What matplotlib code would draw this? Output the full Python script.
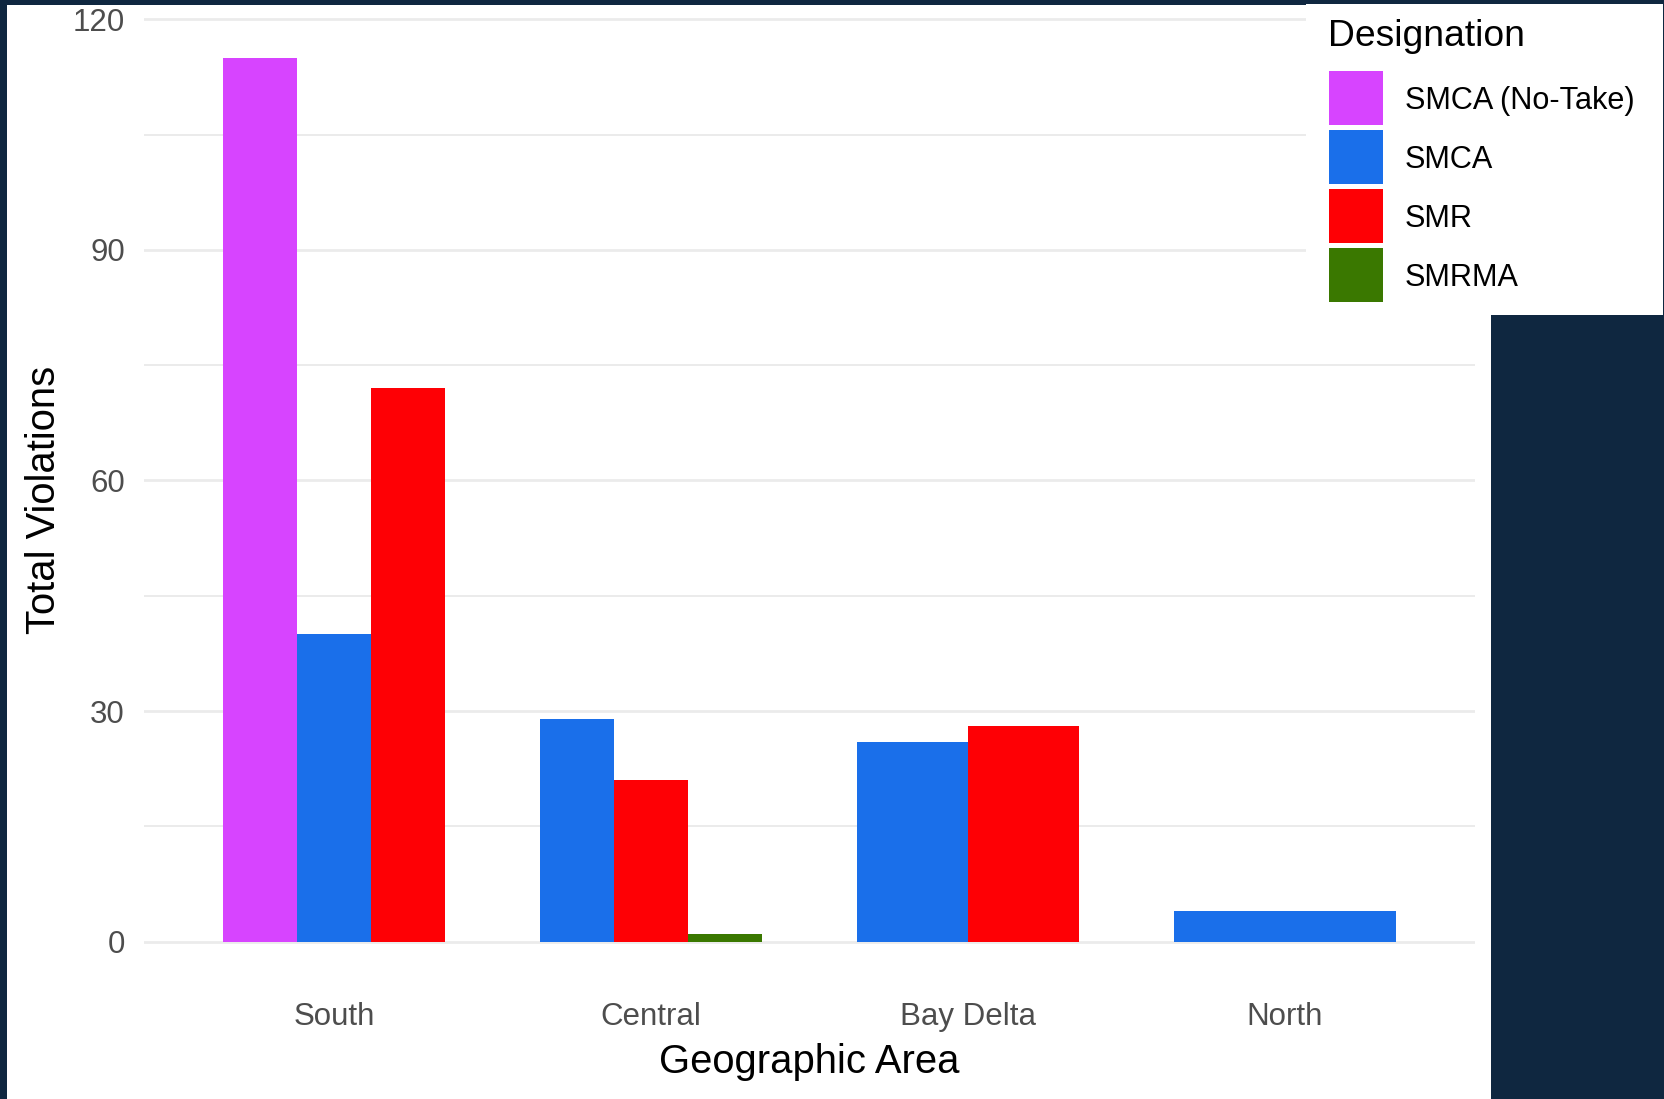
import matplotlib
matplotlib.use("Agg")
import matplotlib.pyplot as plt
from matplotlib.patches import Rectangle, Patch
from matplotlib.legend_handler import HandlerPatch

plt.rcParams['font.family'] = ['Liberation Sans', 'DejaVu Sans']

# ---- data ----
regions = ["South", "Central", "Bay Delta", "North"]
designations = ["SMCA (No-Take)", "SMCA", "SMR", "SMRMA"]
no_take = [115, None, None, None]
smca = [40, 29, 26, 4]
smr = [72, 21, 28, None]
smrma = [None, 1, None, None]
series = [no_take, smca, smr, smrma]
colors = ["#D744FF", "#1A6FEA", "#FE0005", "#3A7800"]
yticks = [0, 30, 60, 90, 120]

W, H = 1665, 1099
DARK = "#0F2740"
fig = plt.figure(figsize=(W / 100, H / 100), dpi=100, facecolor=DARK)

# white panels
fig.patches.append(Rectangle((7 / W, 0), (1491 - 7) / W, (H - 5) / H,
                             transform=fig.transFigure, facecolor="white",
                             edgecolor="none", zorder=-1))
fig.patches.append(Rectangle((1306 / W, 1 - 315 / H), (1663 - 1306) / W, (315 - 4) / H,
                             transform=fig.transFigure, facecolor="white",
                             edgecolor="none", zorder=1))

ax_left, ax_right = 144 / W, 1475 / W
ax_top, ax_bot = 1 - 13.5 / H, 1 - 985.9 / H
ax = fig.add_axes([ax_left, ax_bot, ax_right - ax_left, ax_top - ax_bot])
ax.set_facecolor("none")
ax.set_zorder(0)

# dodged bars (ggplot-like: group width 0.7 split among present bars)
group_w = 0.7
for gi, reg in enumerate(regions):
    present = [si for si, s in enumerate(series) if s[gi] is not None]
    n = len(present)
    w = group_w / n
    for k, si in enumerate(present):
        x = gi - group_w / 2 + k * w + w / 2
        ax.bar(x, series[si][gi], width=w, color=colors[si], linewidth=0, zorder=2)

ax.set_xlim(-0.6, len(regions) - 1 + 0.6)
ax.set_ylim(-5.75, 120.75)

ax.set_xticks(range(len(regions)))
ax.set_xticklabels(regions)
ax.set_yticks(yticks)
ax.set_yticks([15, 45, 75, 105], minor=True)
ax.tick_params(axis="both", which="both", length=0, labelsize=22.5,
               labelcolor="#4D4D4D")
ax.tick_params(axis="y", pad=13.7)
ax.tick_params(axis="x", pad=11.8)

ax.grid(axis="y", which="major", color="#EBEBEB", linewidth=2.0, zorder=0)
ax.grid(axis="y", which="minor", color="#EBEBEB", linewidth=1.4, zorder=0)
ax.grid(axis="x", visible=False)
ax.set_axisbelow(True)
for sp in ax.spines.values():
    sp.set_visible(False)

ax.set_xlabel("Geographic Area", fontsize=28.8, color="black")
ax.set_ylabel("Total Violations", fontsize=28.8, color="black")
ax.xaxis.set_label_coords(0.5, (985.9 - 1043) / 972.4)
ax.yaxis.set_label_coords((63 - 144) / 1331, 0.5)


# legend: keys fill the whole handle box
def full_patch(legend, orig_handle, xdescent, ydescent, width, height, fontsize):
    return Rectangle((-xdescent, -ydescent), width, height)


fs = 22.1
fpx = fs * 100 / 72
key_px = 54
hh = (key_px / fpx - 0.245) / 0.65
handles = [Patch(facecolor=c, edgecolor="none", linewidth=0) for c in colors]
leg = fig.legend(handles, designations, loc="upper left",
                 bbox_to_anchor=(1329 / W, 1 - 71 / H), bbox_transform=fig.transFigure,
                 frameon=False, fontsize=fs, borderpad=0, borderaxespad=0,
                 handlelength=key_px / fpx, handleheight=hh,
                 labelspacing=5 / fpx, handletextpad=22 / fpx,
                 handler_map={Patch: HandlerPatch(patch_func=full_patch)})
leg.set_zorder(2)
for t in leg.get_texts():
    t.set_y(-2)
fig.text(1328 / W, 1 - 45.7 / H, "Designation", ha="left", va="baseline",
         fontsize=26.8, color="black", zorder=3)

fig.savefig("out.png", dpi=100, facecolor=DARK)
